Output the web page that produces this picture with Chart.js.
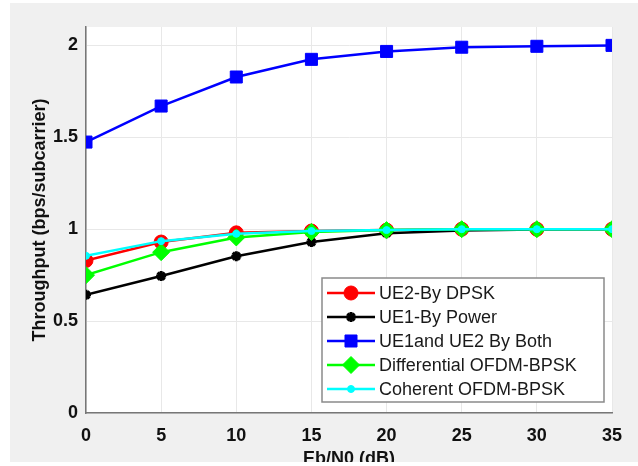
<!DOCTYPE html>
<html lang="en">
<head>
    <meta charset="UTF-8" />
    <title>Throughput vs Eb/N0</title>
    <style>
        body {
            margin: 0;
            background: #ffffff;
        }

        #wrap {
            width: 638px;
            height: 466px;
        }
    </style>
    <script src="https://cdn.jsdelivr.net/npm/chart.js"></script>
</head>
<body>
    <div id="wrap"><canvas id="throughputChart" width="638" height="466"></canvas></div>

    <script>
        // values
        const ebN0 = [0, 5, 10, 15, 20, 25, 30, 35];
        const ue2Dpsk = [0.83, 0.93, 0.98, 0.99, 0.995, 1.0, 1.0, 1.0];
        const ue1Power = [0.643, 0.745, 0.853, 0.93, 0.978, 0.993, 0.998, 1.0];
        const ue1Ue2Both = [1.474, 1.67, 1.828, 1.924, 1.967, 1.99, 1.995, 2.0];
        const diffOfdmBpsk = [0.75, 0.875, 0.955, 0.985, 0.995, 1.0, 1.0, 1.0];
        const cohOfdmBpsk = [0.855, 0.935, 0.975, 0.99, 0.995, 1.0, 1.0, 1.0];

        const seriesNames = ["UE2-By DPSK", "UE1-By Power", "UE1and UE2 By Both", "Differential OFDM-BPSK", "Coherent OFDM-BPSK"];
        const yTickValues = [0, 0.5, 1, 1.5, 2];
        const yTickLabels = ["0", "0.5", "1", "1.5", "2"];

        const fontFamily = "'Liberation Sans', Arial, Helvetica, sans-serif";

        function toPoints(values) {
            return values.map((v, i) => ({ x: ebN0[i], y: v }));
        }

        const datasets = [
            { label: seriesNames[0], data: toPoints(ue2Dpsk), borderColor: "#ff0000", backgroundColor: "#ff0000", pointStyle: "circle", pointRadius: 7, order: 5 },
            { label: seriesNames[1], data: toPoints(ue1Power), borderColor: "#000000", backgroundColor: "#000000", pointStyle: "star", pointRadius: 5, pointBorderWidth: 3, order: 4 },
            { label: seriesNames[2], data: toPoints(ue1Ue2Both), borderColor: "#0000ff", backgroundColor: "#0000ff", pointStyle: "rect", pointRadius: 8.5, order: 3 },
            { label: seriesNames[3], data: toPoints(diffOfdmBpsk), borderColor: "#00ff00", backgroundColor: "#00ff00", pointStyle: "rectRot", pointRadius: 8.5, order: 2 },
            { label: seriesNames[4], data: toPoints(cohOfdmBpsk), borderColor: "#00ffff", backgroundColor: "#00ffff", pointStyle: "circle", pointRadius: 3.5, order: 1 },
        ];
        datasets.forEach((d) => {
            d.borderWidth = 2.5;
            d.fill = false;
            d.tension = 0;
            if (d.pointBorderWidth === undefined) d.pointBorderWidth = 1;
        });

        // gray figure background + white axes area
        const backgroundPlugin = {
            id: "background",
            beforeDraw(chart) {
                const ctx = chart.ctx;
                const a = chart.chartArea;
                ctx.save();
                ctx.fillStyle = "#f0f0f0";
                ctx.fillRect(0, 0, chart.width, chart.height);
                ctx.fillStyle = "#ffffff";
                ctx.fillRect(a.left, a.top, a.right - a.left, a.bottom - a.top);
                ctx.restore();
            },
            afterDraw(chart) {
                // white margins of the screenshot
                const ctx = chart.ctx;
                ctx.save();
                ctx.fillStyle = "#ffffff";
                ctx.fillRect(0, 0, 10, chart.height);
                ctx.fillRect(0, 0, chart.width, 3);
                ctx.fillRect(0, 462, chart.width, chart.height - 462);
                ctx.restore();
            },
        };

        // matlab style legend box inside the axes
        const legendBoxPlugin = {
            id: "legendBox",
            afterDatasetsDraw(chart) {
                const ctx = chart.ctx;
                const box = { x: 322, y: 278, w: 282, h: 124 };
                ctx.save();
                ctx.fillStyle = "#ffffff";
                ctx.fillRect(box.x, box.y, box.w, box.h);
                ctx.strokeStyle = "#8a8a8a";
                ctx.lineWidth = 1.5;
                ctx.strokeRect(box.x, box.y, box.w, box.h);

                ctx.font = "18px " + fontFamily;
                ctx.textBaseline = "middle";
                ctx.textAlign = "left";
                datasets.forEach((d, i) => {
                    const y = 293 + i * 24;
                    ctx.strokeStyle = d.borderColor;
                    ctx.lineWidth = d.borderWidth;
                    ctx.beginPath();
                    ctx.moveTo(327, y);
                    ctx.lineTo(375, y);
                    ctx.stroke();

                    ctx.fillStyle = d.backgroundColor;
                    ctx.strokeStyle = d.borderColor;
                    ctx.lineWidth = d.pointBorderWidth;
                    Chart.helpers.drawPoint(ctx, { pointStyle: d.pointStyle, radius: d.pointRadius, rotation: 0, borderWidth: d.pointBorderWidth }, 351, y);

                    ctx.fillStyle = "#1a1a1a";
                    ctx.fillText(d.label, 379, y + 1);
                });
                ctx.restore();
            },
        };

        const tickFont = { family: fontFamily, size: 18, weight: "bold" };

        new Chart(document.getElementById("throughputChart").getContext("2d"), {
            type: "line",
            data: { datasets: datasets },
            options: {
                responsive: false,
                animation: false,
                layout: { padding: { top: 27, right: 26, left: 0, bottom: 0 } },
                plugins: {
                    legend: { display: false },
                    tooltip: { enabled: false },
                },
                scales: {
                    x: {
                        type: "linear",
                        min: 0,
                        max: 35,
                        ticks: { stepSize: 5, color: "#111111", font: tickFont, padding: 12, maxRotation: 0 },
                        grid: { color: "#e8e8e8", drawTicks: false },
                        border: { color: "#777777", width: 1.5 },
                        title: {
                            display: true,
                            text: "Eb/N0 (dB)",
                            color: "#111111",
                            font: { family: fontFamily, size: 18, weight: "bold", lineHeight: 0.8 },
                            padding: { top: 0, bottom: 0 },
                        },
                        afterFit: (s) => { s.height = 53; },
                    },
                    y: {
                        min: 0,
                        max: 2.1,
                        afterBuildTicks: (axis) => { axis.ticks = yTickValues.map((v) => ({ value: v })); },
                        ticks: {
                            color: "#111111",
                            font: tickFont,
                            padding: 8,
                            callback: (value) => yTickLabels[yTickValues.indexOf(value)],
                        },
                        grid: { color: "#e8e8e8", drawTicks: false },
                        border: { color: "#777777", width: 1.5 },
                        title: { display: true, text: "Throughput (bps/subcarrier)", color: "#111111", font: tickFont, padding: { top: 29, bottom: 0 } },
                        afterFit: (s) => { s.width = 86; },
                    },
                },
            },
            plugins: [backgroundPlugin, legendBoxPlugin],
        });
    </script>
</body>
</html>
